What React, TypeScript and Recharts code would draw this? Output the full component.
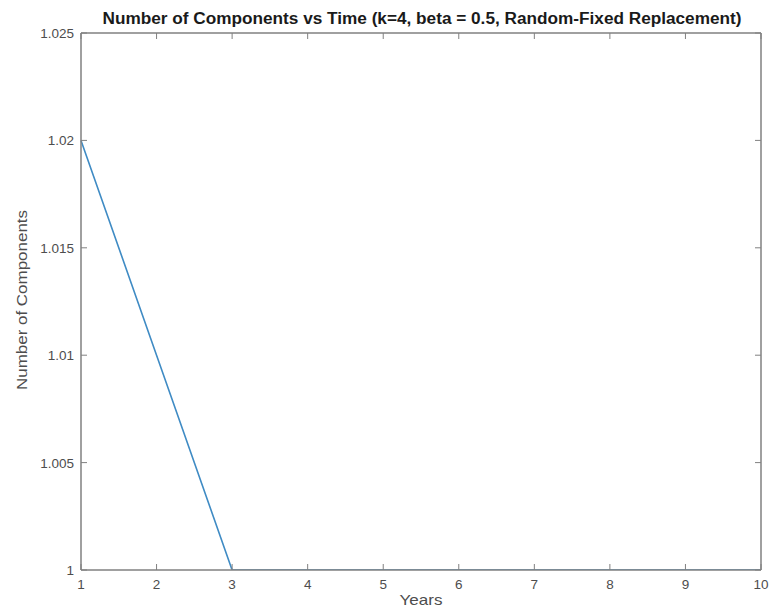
import { LineChart, Line, XAxis, YAxis } from "recharts";

const years = [1, 2, 3, 4, 5, 6, 7, 8, 9, 10];
const components = [1.02, 1.01, 1, 1, 1, 1, 1, 1, 1, 1];
const xTicks = [1, 2, 3, 4, 5, 6, 7, 8, 9, 10];
const yTicks = [1, 1.005, 1.01, 1.015, 1.02, 1.025];
const yTickLabels = ["1", "1.005", "1.01", "1.015", "1.02", "1.025"];

const data = years.map((year, i) => ({ year, value: components[i] }));

const AXIS = "#808080";
const LABEL = "#4d4d4d";
const FONT = "Liberation Sans, Arial, Helvetica, sans-serif";

// MATLAB style ticks point into the plot box
const BottomTick = (props: any) => {
  const { x, y, payload } = props;
  return (
    <g>
      <line x1={x} y1={y} x2={x} y2={y - 6} stroke={AXIS} strokeWidth={1} />
      <text x={x} y={y + 19} textAnchor="middle" fontSize={13.5} fill={LABEL} fontFamily={FONT}>
        {payload.value}
      </text>
    </g>
  );
};

const TopTick = (props: any) => {
  const { x, y } = props;
  return <line x1={x} y1={y} x2={x} y2={y + 6} stroke={AXIS} strokeWidth={1} />;
};

const LeftTick = (props: any) => {
  const { x, y, payload } = props;
  const idx = yTicks.indexOf(payload.value);
  return (
    <g>
      <line x1={x} y1={y} x2={x + 6} y2={y} stroke={AXIS} strokeWidth={1} />
      <text x={x - 7} y={y + 5} textAnchor="end" fontSize={13.5} fill={LABEL} fontFamily={FONT}>
        {idx >= 0 ? yTickLabels[idx] : payload.value}
      </text>
    </g>
  );
};

const RightTick = (props: any) => {
  const { x, y } = props;
  return <line x1={x} y1={y} x2={x - 6} y2={y} stroke={AXIS} strokeWidth={1} />;
};

export default function App() {
  return (
    <div style={{ position: "absolute", left: 0, top: 0, width: 784, height: 608, background: "#fff" }}>
      <svg
        width={784}
        height={608}
        style={{ position: "absolute", left: 0, top: 0, pointerEvents: "none" }}
      >
        <text
          x={422}
          y={24}
          textAnchor="middle"
          fontSize={16}
          fontWeight="bold"
          fill="#1a1a1a"
          fontFamily={FONT}
          textLength={639}
          lengthAdjust="spacingAndGlyphs"
        >
          Number of Components vs Time (k=4, beta = 0.5, Random-Fixed Replacement)
        </text>
        <text
          x={421}
          y={605}
          textAnchor="middle"
          fontSize={15}
          fill={LABEL}
          fontFamily={FONT}
          textLength={43}
          lengthAdjust="spacingAndGlyphs"
        >
          Years
        </text>
        <text
          x={27}
          y={300}
          textAnchor="middle"
          fontSize={15}
          fill={LABEL}
          fontFamily={FONT}
          textLength={180}
          lengthAdjust="spacingAndGlyphs"
          transform="rotate(-90 27 300)"
        >
          Number of Components
        </text>
      </svg>
      <LineChart
        width={784}
        height={608}
        data={data}
        margin={{ top: 32, right: 22, left: 0, bottom: 0 }}
        style={{ position: "absolute", left: 0, top: 0 }}
      >
        <XAxis
          dataKey="year"
          type="number"
          domain={[1, 10]}
          ticks={xTicks}
          height={38}
          tickLine={false}
          tickSize={0}
          tickMargin={0}
          tick={<BottomTick />}
          axisLine={{ stroke: AXIS, strokeWidth: 1.5 }}
          interval={0}
        />
        <XAxis
          xAxisId="top"
          dataKey="year"
          type="number"
          orientation="top"
          domain={[1, 10]}
          ticks={xTicks}
          height={1}
          tickLine={false}
          tickSize={0}
          tickMargin={0}
          tick={<TopTick />}
          axisLine={{ stroke: AXIS, strokeWidth: 1.5 }}
          interval={0}
        />
        <YAxis
          type="number"
          domain={[1, 1.025]}
          ticks={yTicks}
          width={81}
          tickLine={false}
          tickSize={0}
          tickMargin={0}
          tick={<LeftTick />}
          axisLine={{ stroke: AXIS, strokeWidth: 1.5 }}
          interval={0}
          allowDataOverflow
        />
        <YAxis
          yAxisId="right"
          orientation="right"
          type="number"
          domain={[1, 1.025]}
          ticks={yTicks}
          width={1}
          tickLine={false}
          tickSize={0}
          tickMargin={0}
          tick={<RightTick />}
          axisLine={{ stroke: AXIS, strokeWidth: 1.5 }}
          interval={0}
        />
        <Line
          xAxisId="top"
          yAxisId="right"
          type="linear"
          dataKey="value"
          stroke="none"
          dot={false}
          activeDot={false}
          isAnimationActive={false}
        />
        <Line
          type="linear"
          dataKey="value"
          stroke="#3f8bc4"
          strokeWidth={1.6}
          dot={false}
          isAnimationActive={false}
        />
      </LineChart>
    </div>
  );
}
